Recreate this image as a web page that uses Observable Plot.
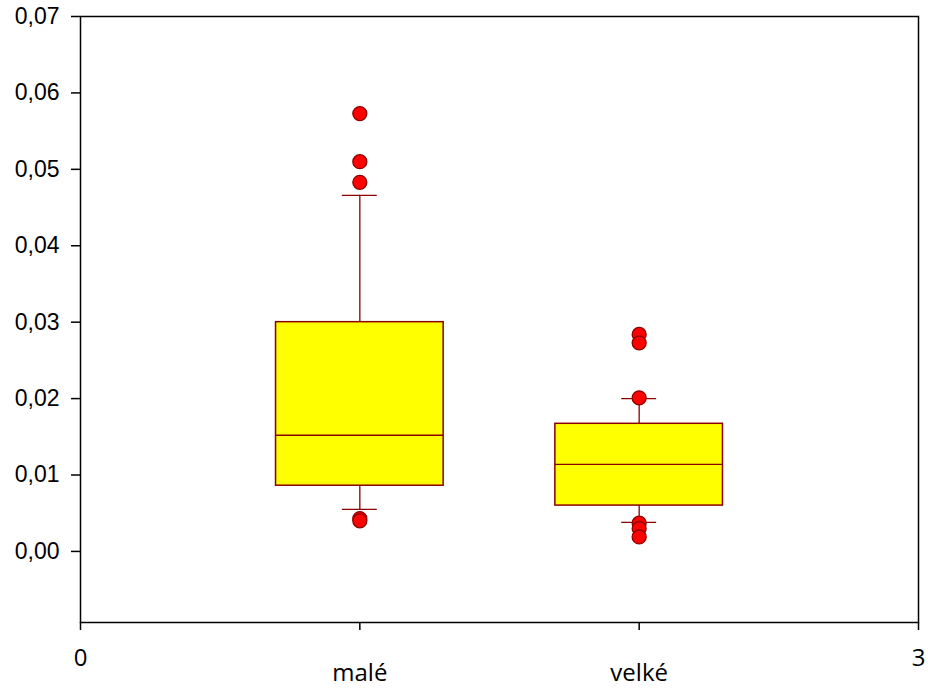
<!DOCTYPE html>
<html>
<head>
<meta charset="utf-8">
<script src="https://cdn.jsdelivr.net/npm/d3@7"></script>
<script src="https://cdn.jsdelivr.net/npm/@observablehq/plot@0.6"></script>
<style>
  html, body { margin: 0; padding: 0; background: #fff; }
  svg { overflow: visible; }
</style>
</head>
<body>
<div id="chart"></div>
<script>
// Categories and their positions on the x axis
const categories = ["malé", "velké"];
const positions = [1, 2];

// Box plot statistics per category
const lowerWhisker = [0.0055, 0.0038];
const q1 = [0.0086, 0.0060];
const median = [0.0152, 0.0114];
const q3 = [0.0300, 0.0167];
const upperWhisker = [0.0466, 0.0200];

// Outliers per category
const maleOutliers = [0.0573, 0.0510, 0.0483, 0.0043, 0.0040];
const velkeOutliers = [0.0284, 0.0273, 0.0201, 0.0037, 0.0030, 0.0019];

// Tick values
const yTicks = [0, 0.01, 0.02, 0.03, 0.04, 0.05, 0.06, 0.07];
const xEndTicks = [0, 3];

const boxes = categories.map((c, i) => ({
  cat: c, pos: positions[i], lo: lowerWhisker[i], q1: q1[i],
  med: median[i], q3: q3[i], hi: upperWhisker[i]
}));
const outliers = [
  ...maleOutliers.map(v => ({pos: positions[0], value: v})),
  ...velkeOutliers.map(v => ({pos: positions[1], value: v}))
];

const boxHalf = 0.3;
const capHalf = 0.0625;
const dark = "#8b0000";

const chart = Plot.plot({
  width: 928,
  height: 689,
  marginLeft: 80,
  marginRight: 10,
  marginTop: 16,
  marginBottom: 67,
  style: {background: "white", fontFamily: "Liberation Sans"},
  x: {domain: [0, 3]},
  y: {domain: [-0.0093, 0.07]},
  marks: [
    // whiskers
    Plot.ruleX(boxes, {x: "pos", y1: "q3", y2: "hi", stroke: dark, strokeWidth: 1.3}),
    Plot.ruleX(boxes, {x: "pos", y1: "q1", y2: "lo", stroke: dark, strokeWidth: 1.3}),
    Plot.ruleY(boxes, {y: "hi", x1: d => d.pos - capHalf, x2: d => d.pos + capHalf, stroke: dark, strokeWidth: 1.3}),
    Plot.ruleY(boxes, {y: "lo", x1: d => d.pos - capHalf, x2: d => d.pos + capHalf, stroke: dark, strokeWidth: 1.3}),
    // boxes
    Plot.rect(boxes, {x1: d => d.pos - boxHalf, x2: d => d.pos + boxHalf, y1: "q1", y2: "q3",
      fill: "#ffff00", stroke: dark, strokeWidth: 1.5}),
    Plot.ruleY(boxes, {y: "med", x1: d => d.pos - boxHalf, x2: d => d.pos + boxHalf, stroke: dark, strokeWidth: 1.3}),
    // outliers
    Plot.dot(outliers, {x: "pos", y: "value", r: 7, fill: "#ff0000", stroke: dark, strokeWidth: 1.3}),
    // axes
    Plot.axisY(yTicks, {
      tickSize: 9, tickPadding: 12, fontSize: 23, fontFamily: "Liberation Sans",
      fill: "#000", stroke: "#000", strokeWidth: 1.5,
      tickFormat: d => d3.format(".2f")(d).replace(".", ","), label: null
    }),
    Plot.axisX(xEndTicks, {
      tickSize: 8, tickPadding: 18, fontSize: 24, fontFamily: "Open Sans",
      fill: "#000", stroke: "#000", strokeWidth: 1.5,
      tickFormat: d => String(d), label: null
    }),
    Plot.axisX(positions, {
      tickSize: 8, tickPadding: 33, fontSize: 24, fontFamily: "Open Sans",
      fill: "#000", stroke: "#000", strokeWidth: 1.5,
      tickFormat: d => categories[positions.indexOf(d)], label: null
    }),
    Plot.frame({stroke: "#000", strokeWidth: 1.5})
  ]
});
document.getElementById("chart").appendChild(chart);
</script>
</body>
</html>
